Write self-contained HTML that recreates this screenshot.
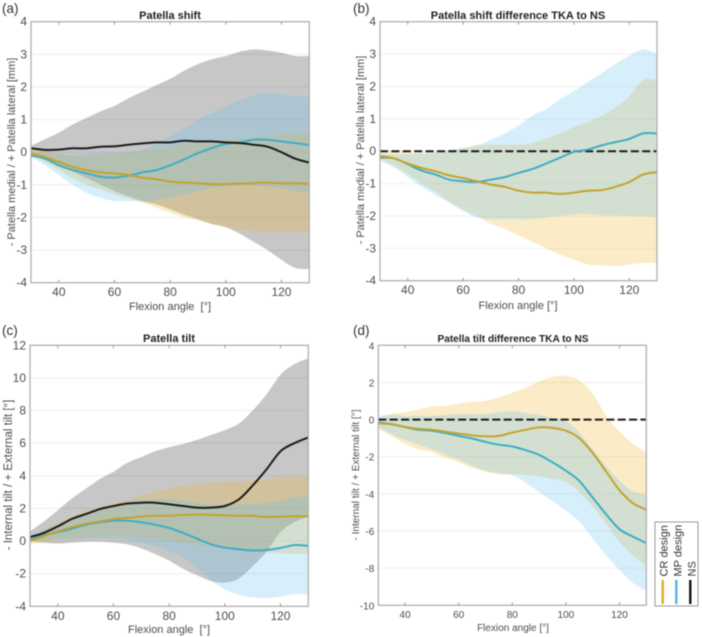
<!DOCTYPE html>
<html lang="en">
<head>
<meta charset="utf-8">
<title>Patella shift and tilt</title>
<style>
html,body{margin:0;padding:0;background:#fff;width:702px;height:637px;overflow:hidden}
svg{display:block;filter:blur(0.4px)}
text{font-family:"Liberation Sans",sans-serif}
</style>
</head>
<body>
<svg id="fig" width="702" height="637" viewBox="0 0 702 637" xmlns="http://www.w3.org/2000/svg">
  <g id="legend">
    <rect x="655" y="522" width="43" height="84" fill="#fff" stroke="#9a9a9a" stroke-width="1"/>
    <text transform="translate(667.5,576.5) rotate(-90)" font-size="11" fill="#333">CR design</text>
    <text transform="translate(681.5,576.5) rotate(-90)" font-size="11" fill="#333">MP design</text>
    <text transform="translate(695.5,576.5) rotate(-90)" font-size="11" fill="#333">NS</text>
    <line x1="662.7" x2="662.7" y1="580" y2="604" stroke="#e2a92c" stroke-width="2.4"/>
    <line x1="676.3" x2="676.3" y1="580" y2="604" stroke="#4cb7e2" stroke-width="2.4"/>
    <line x1="690.3" x2="690.3" y1="580" y2="604" stroke="#111" stroke-width="2.4"/>
  </g>
</svg>
<script>
const angles = [30,35,40,45,50,55,60,65,70,75,80,85,90,95,100,105,110,115,120,125,130];
const xTicks = [40,60,80,100,120];
const yTicksShift = [-4,-3,-2,-1,0,1,2,3,4];
const yTicksTiltAbs = [-4,-2,0,2,4,6,8,10,12];
const yTicksTiltDiff = [-10,-8,-6,-4,-2,0,2,4];

// Panel a
const aNsMean = [.12,.07,.08,.12,.12,.17,.18,.23,.27,.3,.3,.35,.33,.33,.3,.28,.23,.17,0,-.2,-.32];
const aNsUpper = [.2,.4,.6,.85,1.05,1.25,1.42,1.65,1.85,2.05,2.25,2.5,2.7,2.85,2.95,3.08,3.15,3.12,3.05,2.95,2.95];
const aNsLower = [0,-.2,-.4,-.6,-.8,-1,-1.2,-1.35,-1.5,-1.6,-1.75,-1.92,-2.05,-2.2,-2.3,-2.5,-2.75,-3,-3.3,-3.55,-3.58];
const aCrMean = [-.05,-.15,-.3,-.45,-.55,-.62,-.65,-.7,-.78,-.83,-.9,-.93,-.95,-.98,-.98,-.96,-.95,-.93,-.95,-.95,-.97];
const aCrUpper = [.05,.05,-.05,-.1,-.1,-.08,-.05,0,.05,.1,.2,.28,.3,.35,.4,.4,.45,.5,.55,.6,.65];
const aCrLower = [-.1,-.3,-.55,-.8,-1,-1.15,-1.3,-1.42,-1.55,-1.7,-1.85,-2,-2.1,-2.2,-2.3,-2.38,-2.42,-2.45,-2.45,-2.45,-2.5];
const aMpMean = [-.1,-.2,-.4,-.55,-.65,-.75,-.78,-.72,-.62,-.55,-.4,-.22,-.03,.13,.25,.3,.38,.38,.33,.28,.22];
const aMpUpper = [0,0,-.05,-.08,-.05,-.02,0,.02,.08,.25,.5,.75,1,1.2,1.4,1.6,1.75,1.8,1.78,1.72,1.7];
const aMpLower = [-.15,-.4,-.7,-1,-1.25,-1.4,-1.5,-1.5,-1.5,-1.48,-1.4,-1.3,-1.2,-1.1,-1.05,-1.02,-1.02,-1.05,-1.1,-1.2,-1.25];

// Panel b
const bCrMean = [-.15,-.22,-.38,-.52,-.62,-.75,-.83,-.93,-1.03,-1.1,-1.22,-1.28,-1.28,-1.32,-1.28,-1.22,-1.2,-1.1,-.95,-.72,-.65];
const bCrUpper = [0,.02,-.02,-.08,-.05,0,.1,.18,.2,.2,.2,.25,.4,.55,.75,.9,1.1,1.35,1.7,2.2,2.2];
const bCrLower = [-.25,-.45,-.7,-1,-1.25,-1.55,-1.8,-2,-2.25,-2.4,-2.6,-2.8,-3,-3.2,-3.35,-3.5,-3.52,-3.55,-3.5,-3.45,-3.45];
const bMpMean = [-.2,-.22,-.4,-.6,-.72,-.88,-.93,-.95,-.88,-.8,-.67,-.55,-.38,-.2,-.02,.05,.18,.28,.38,.55,.55];
const bMpUpper = [-.1,-.1,-.1,-.05,0,.05,.1,.18,.35,.55,.8,1.1,1.3,1.6,1.85,2.15,2.4,2.7,2.95,3.15,3];
const bMpLower = [-.3,-.5,-.8,-1.1,-1.35,-1.6,-1.85,-2.05,-2.1,-2.1,-2.1,-2.1,-2.05,-2,-1.95,-1.95,-1.98,-1.98,-2,-2,-2.05];

// Panel c
const cNsMean = [.25,.5,.9,1.35,1.65,1.95,2.15,2.3,2.35,2.35,2.25,2.15,2.05,2.05,2.15,2.55,3.4,4.4,5.5,6,6.35];
const cNsUpper = [.6,1.2,1.9,2.6,3.2,3.8,4.25,4.8,5.15,5.5,5.75,5.95,6.2,6.5,6.8,7.2,8,9,10.2,10.85,11.2];
const cNsLower = [0,-.1,-.15,-.1,-.05,-.05,-.1,-.2,-.45,-.8,-1.2,-1.7,-2.1,-2.45,-2.55,-2.3,-1.55,-.65,.55,1.15,1.5];
const cCrMean = [0,.3,.6,.85,1.05,1.2,1.35,1.42,1.5,1.55,1.55,1.6,1.62,1.6,1.58,1.55,1.55,1.48,1.5,1.52,1.52];
const cCrUpper = [.15,.7,1.1,1.5,1.8,2.1,2.3,2.55,2.8,3,3.2,3.4,3.5,3.6,3.65,3.65,3.7,3.8,3.9,3.95,3.95];
const cCrLower = [-.2,-.1,.05,.1,.2,.25,.3,.25,.15,.1,0,-.1,-.2,-.3,-.4,-.55,-.65,-.7,-.75,-.8,-.8];
const cMpMean = [.1,.35,.55,.75,1,1.15,1.25,1.25,1.15,1,.8,.5,.15,-.2,-.4,-.5,-.58,-.55,-.42,-.25,-.3];
const cMpUpper = [.3,.7,1.05,1.4,1.7,2,2.2,2.45,2.55,2.55,2.6,2.5,2.35,2.25,2.2,2.25,2.3,2.35,2.5,2.7,2.75];
const cMpLower = [-.05,.05,.1,.1,.15,.15,.15,.05,-.1,-.3,-.6,-1,-1.6,-2.4,-2.95,-3.3,-3.45,-3.5,-3.4,-3.25,-3.3];

// Panel d
const dCrMean = [-.2,-.25,-.4,-.5,-.55,-.65,-.75,-.85,-.9,-.88,-.7,-.55,-.42,-.45,-.6,-1,-1.8,-2.8,-3.8,-4.5,-4.85];
const dCrUpper = [.05,.3,.4,.55,.7,.75,.85,.95,1,1.2,1.45,1.7,2.05,2.3,2.35,2.1,1.4,.2,-.65,-1.3,-1.75];
const dCrLower = [-.5,-.9,-1.3,-1.6,-1.75,-2.05,-2.3,-2.6,-2.8,-2.95,-2.95,-3,-3.05,-3.2,-3.35,-3.9,-4.7,-5.6,-6.6,-7.3,-7.9];
const dMpMean = [-.15,-.25,-.4,-.55,-.6,-.72,-.88,-1.02,-1.2,-1.35,-1.45,-1.65,-1.9,-2.3,-2.75,-3.3,-4.2,-5.1,-5.9,-6.3,-6.65];
const dMpUpper = [.2,.25,.2,.2,.2,.25,.3,.3,.3,.4,.45,.35,.25,.1,-.1,-.7,-1.6,-2.5,-3.3,-3.85,-4.05];
const dMpLower = [-.4,-.8,-1.1,-1.35,-1.6,-1.9,-2.15,-2.5,-2.75,-2.9,-3,-3.4,-3.9,-4.4,-4.9,-5.5,-6.4,-7.3,-8.1,-8.8,-9.2];

const SVGNS = 'http://www.w3.org/2000/svg';
const fig = document.getElementById('fig');
const legendNode = document.getElementById('legend');
const bandColors = {ns:'rgba(0,0,0,0.22)', cr:'rgba(240,180,30,0.25)', mp:'rgba(90,190,240,0.25)'};
const lineColors = {ns:'#1c1c1c', cr:'#c4a22f', mp:'#3fadc6'};

function make(tag, parent, attrs) {
  const el = document.createElementNS(SVGNS, tag);
  for (const k in attrs) el.setAttribute(k, attrs[k]);
  parent.appendChild(el);
  return el;
}

// Smooth curve through the given screen points (Catmull-Rom segments).
function smoothSegments(pts) {
  let d = '';
  for (let i = 0; i < pts.length - 1; i++) {
    const p0 = pts[Math.max(i - 1, 0)], p1 = pts[i], p2 = pts[i + 1], p3 = pts[Math.min(i + 2, pts.length - 1)];
    const c1x = p1[0] + (p2[0] - p0[0]) / 6, c1y = p1[1] + (p2[1] - p0[1]) / 6;
    const c2x = p2[0] - (p3[0] - p1[0]) / 6, c2y = p2[1] - (p3[1] - p1[1]) / 6;
    d += 'C' + c1x.toFixed(1) + ' ' + c1y.toFixed(1) + ' ' + c2x.toFixed(1) + ' ' + c2y.toFixed(1) + ' ' + p2[0].toFixed(1) + ' ' + p2[1].toFixed(1);
  }
  return d;
}

function drawPanel(p) {
  const g = make('g', fig, {});
  
  
  fig.insertBefore(g, legendNode);
  const xPos = v => p.left + (v - 30) / 100 * (p.right - p.left);
  const yPos = v => p.bottom - (v - p.yMin) / (p.yMax - p.yMin) * (p.bottom - p.top);

  // grid
  p.yTicks.forEach(t => {
    if (t === p.yMin || t === p.yMax) return;
    const gl = make('line', g, {x1:p.left, x2:p.right, y1:yPos(t), y2:yPos(t), stroke:'#eeeeee', 'stroke-width':1});
    
    
  });

  // bands
  p.series.forEach(s => {
    const up = s.upper.map((v, i) => [xPos(angles[i]), yPos(v)]);
    const lo = s.lower.map((v, i) => [xPos(angles[i]), yPos(v)]).reverse();
    const d = 'M' + up[0][0].toFixed(1) + ' ' + up[0][1].toFixed(1) + smoothSegments(up) +
      'L' + lo[0][0].toFixed(1) + ' ' + lo[0][1].toFixed(1) + smoothSegments(lo) + 'Z';
    const band = make('path', g, {d: d, fill: bandColors[s.key]});
    
    
  });

  // zero reference
  if (p.dashed) {
    const z = make('line', g, {x1:p.left, x2:p.right, y1:yPos(0), y2:yPos(0), stroke:'#1c1c1c', 'stroke-width':2, 'stroke-dasharray':'8 3.4'});
    
    
  }

  // means
  p.series.slice().reverse().forEach(s => {
    const pts = s.mean.map((v, i) => [xPos(angles[i]), yPos(v)]);
    const d = 'M' + pts[0][0].toFixed(1) + ' ' + pts[0][1].toFixed(1) + smoothSegments(pts);
    const ln = make('path', g, {d: d, fill:'none', stroke: lineColors[s.key], 'stroke-width':2, 'stroke-linejoin':'round'});
    
    
  });

  // frame
  const frame = make('rect', g, {x:p.left, y:p.top, width:p.right - p.left, height:p.bottom - p.top, fill:'none', stroke:'#b0b0b0', 'stroke-width':1.3});
  
  

  // ticks and labels
  xTicks.forEach(t => {
    const tk = make('path', g, {d:'M' + xPos(t) + ' ' + p.bottom + 'v-3M' + xPos(t) + ' ' + p.top + 'v3', stroke:'#999', 'stroke-width':1, fill:'none'});
    
    
    const lb = make('text', g, {x:xPos(t), y:p.bottom + p.xTickGap, 'text-anchor':'middle', 'font-size':p.tickSize, fill:'#4d4d4d'});
    lb.textContent = t;
    
    
  });
  p.yTicks.forEach(t => {
    const lb = make('text', g, {x:p.left - 4, y:yPos(t) + 4, 'text-anchor':'end', 'font-size':p.tickSize, fill:'#4d4d4d'});
    lb.textContent = t;
    
    
  });

  const letter = make('text', g, {x:p.letterX, y:p.letterY, 'font-size':13.5, fill:'#333'});
  letter.textContent = '(' + p.id + ')';
  
  

  const title = make('text', g, {x:p.titleX, y:p.titleY, 'text-anchor':'middle', 'font-size':p.titleSize, 'font-weight':'bold', fill:'#222'});
  title.textContent = p.title;
  
  

  const xl = make('text', g, {x:p.titleX, y:p.xLabelY, 'text-anchor':'middle', 'font-size':p.xLabelSize, fill:'#4d4d4d'});
  xl.textContent = p.xLabel;
  xl.style.whiteSpace = 'pre';
  
  

  const yl = make('text', g, {transform:'translate(' + p.yLabelX + ',' + p.yLabelY + ') rotate(-90)', 'text-anchor':'middle', 'font-size':p.yLabelSize, fill:'#4d4d4d'});
  yl.textContent = p.yLabel;
  
  
}

drawPanel({id:'a', title:'Patella shift', left:31, right:309.3, top:21.7, bottom:282.7, yMin:-4, yMax:4, yTicks:yTicksShift,
  tickSize:12, xTickGap:13.5, titleX:170, titleY:19, titleSize:11, letterX:2, letterY:13, xLabel:'Flexion angle  [°]', xLabelY:310, xLabelSize:11,
  yLabel:'- Patella medial / + Patella lateral [mm]', yLabelX:15, yLabelY:152, yLabelSize:11, dashed:false,
  series:[{key:'ns', mean:aNsMean, upper:aNsUpper, lower:aNsLower},{key:'cr', mean:aCrMean, upper:aCrUpper, lower:aCrLower},{key:'mp', mean:aMpMean, upper:aMpUpper, lower:aMpLower}]});

drawPanel({id:'b', title:'Patella shift difference TKA to NS', left:380, right:657, top:21.7, bottom:280.7, yMin:-4, yMax:4, yTicks:yTicksShift,
  tickSize:12, xTickGap:13.5, titleX:518, titleY:19, titleSize:11, letterX:353, letterY:13, xLabel:'Flexion angle [°]', xLabelY:309, xLabelSize:11,
  yLabel:'- Patella medial / + Patella lateral [mm]', yLabelX:364, yLabelY:150, yLabelSize:11, dashed:true,
  series:[{key:'cr', mean:bCrMean, upper:bCrUpper, lower:bCrLower},{key:'mp', mean:bMpMean, upper:bMpUpper, lower:bMpLower}]});

drawPanel({id:'c', title:'Patella tilt', left:30, right:308.3, top:345.3, bottom:606.3, yMin:-4, yMax:12, yTicks:yTicksTiltAbs,
  tickSize:12, xTickGap:13.5, titleX:169, titleY:342, titleSize:11, letterX:2, letterY:335, xLabel:'Flexion angle  [°]', xLabelY:633, xLabelSize:11,
  yLabel:'- Internal tilt / + External tilt [°]', yLabelX:12, yLabelY:475, yLabelSize:11.5, dashed:false,
  series:[{key:'ns', mean:cNsMean, upper:cNsUpper, lower:cNsLower},{key:'cr', mean:cCrMean, upper:cCrUpper, lower:cCrLower},{key:'mp', mean:cMpMean, upper:cMpUpper, lower:cMpLower}]});

drawPanel({id:'d', title:'Patella tilt difference TKA to NS', left:378.3, right:646.3, top:345.3, bottom:605.3, yMin:-10, yMax:4, yTicks:yTicksTiltDiff,
  tickSize:10, xTickGap:12.5, titleX:513, titleY:342, titleSize:10.1, letterX:353, letterY:335, xLabel:'Flexion angle [°]', xLabelY:631, xLabelSize:10,
  yLabel:'- Internal tilt / + External tilt [°]', yLabelX:359, yLabelY:475, yLabelSize:10, dashed:true,
  series:[{key:'cr', mean:dCrMean, upper:dCrUpper, lower:dCrLower},{key:'mp', mean:dMpMean, upper:dMpUpper, lower:dMpLower}]});
</script>
</body>
</html>
